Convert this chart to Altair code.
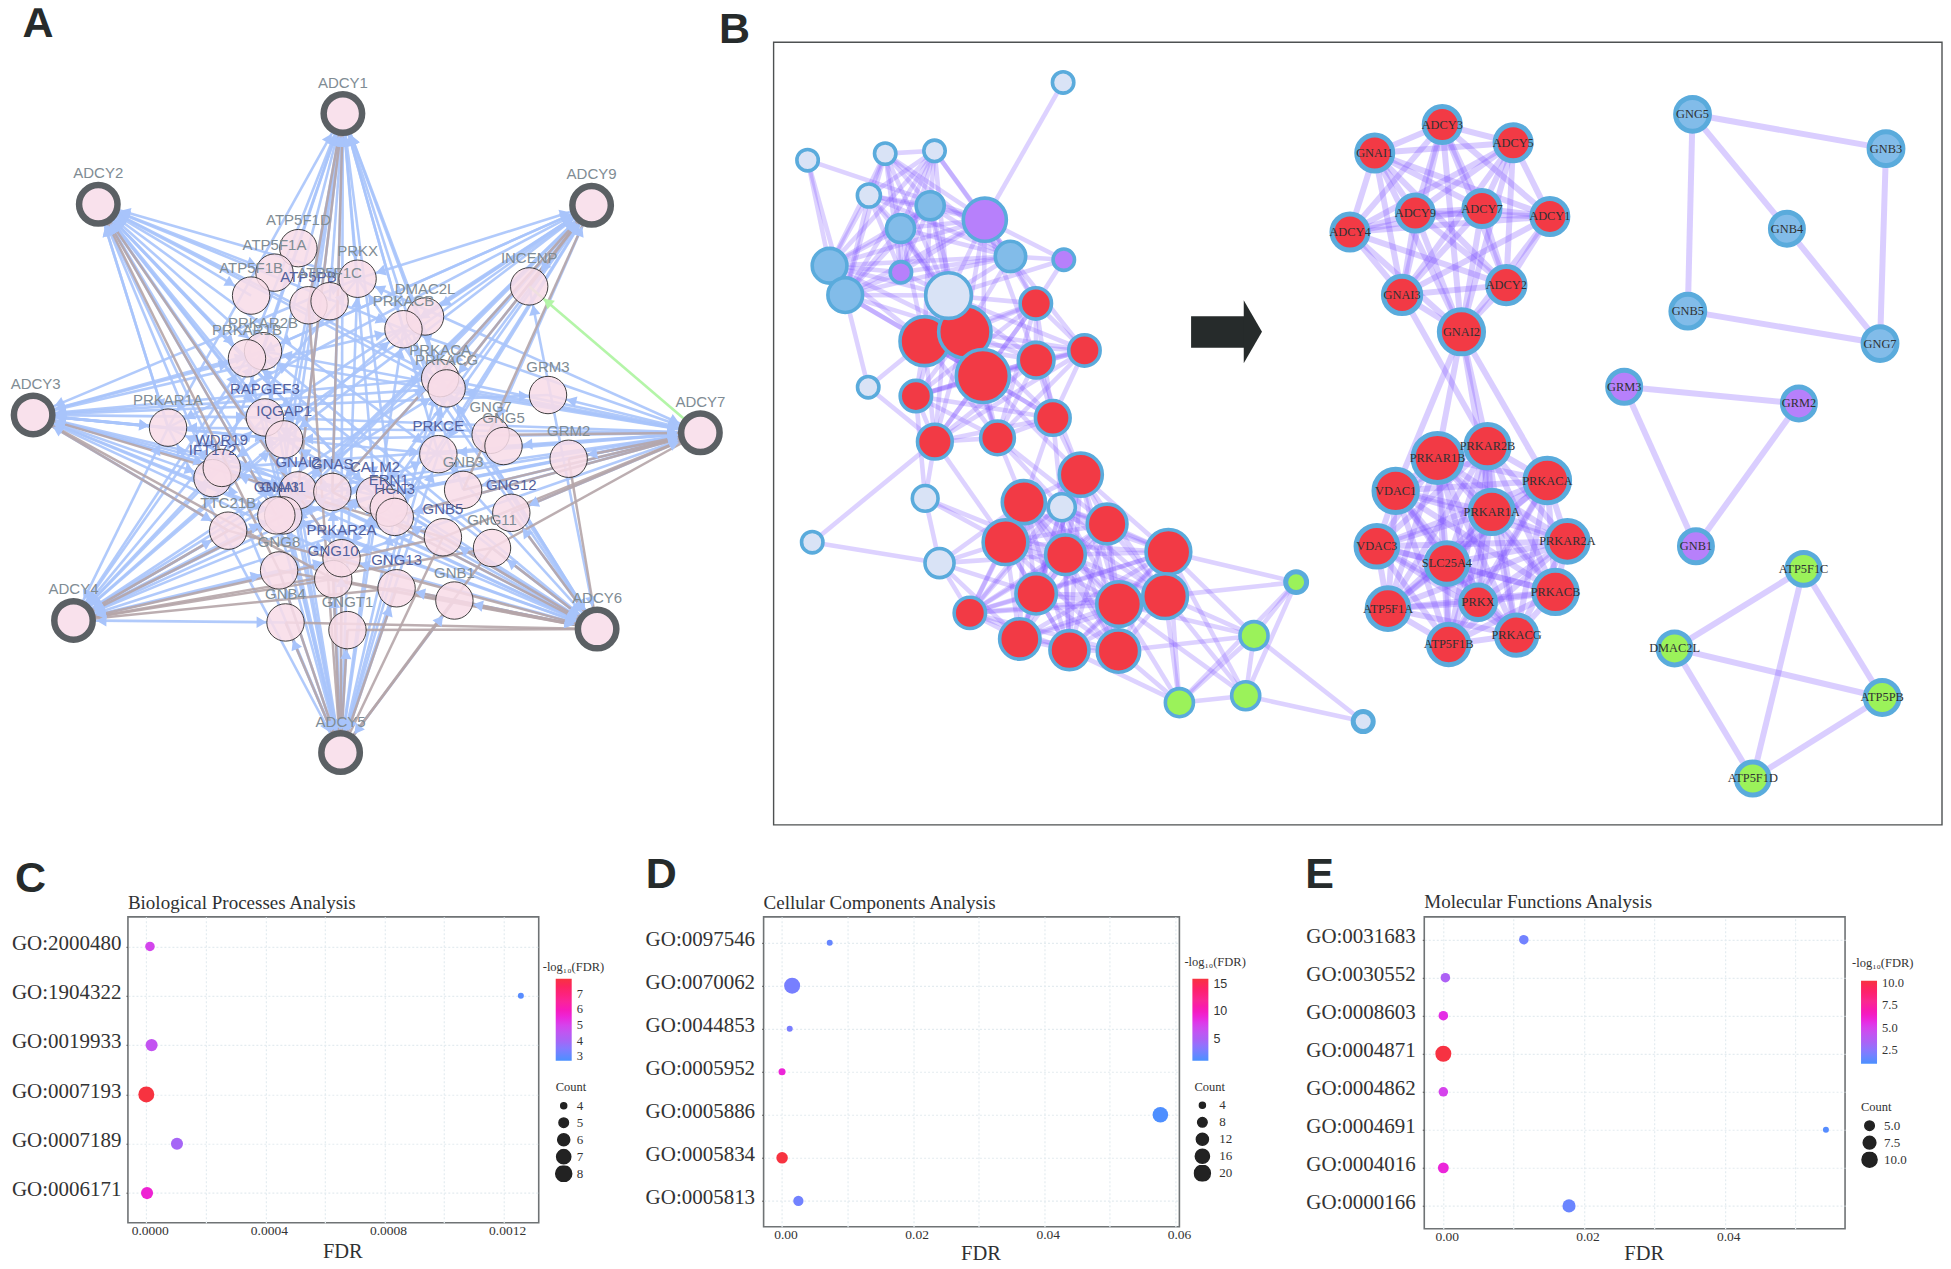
import math
from itertools import combinations
import altair as alt
import pandas as pd

SERIF = "Liberation Serif"
SANS = "Liberation Sans"

# ------------------------------------------------------------ Panel A network
# layout: name, x, y
A_SX, A_SY = 2.178, 1.96
A_hubs = [("ADCY1", 745, 222), ("ADCY2", 212, 400), ("ADCY9", 1287, 402), ("ADCY3", 70, 813),
          ("ADCY7", 1524, 848), ("ADCY4", 158, 1216), ("ADCY6", 1299, 1233), ("ADCY5", 740, 1475)]
A_nodes = [("ATP5F1D", 648, 486), ("ATP5F1A", 596, 534), ("ATP5F1B", 545, 579), ("ATP5PB", 670, 598),
           ("ATP5F1C", 716, 590), ("PRKX", 777, 546), ("DMAC2L", 924, 620), ("PRKACB", 877, 645),
           ("INCENP", 1151, 561), ("PRKAR2B", 571, 688), ("PRKAR1B", 536, 702), ("PRKACA", 957, 741),
           ("PRKACG", 971, 761), ("GRM3", 1192, 774), ("PRKAR1A", 364, 838), ("RAPGEF3", 575, 818),
           ("IQGAP1", 617, 861), ("PRKCE", 953, 890), ("GNG7", 1067, 852), ("GNG5", 1095, 874),
           ("GRM2", 1237, 899), ("IFT172", 461, 937), ("WDR19", 481, 917), ("GNAI2", 647, 961),
           ("GNAS", 722, 964), ("CALM2", 815, 971), ("ERN1", 845, 995), ("HCN3", 858, 1013),
           ("GNB3", 1007, 960), ("GNG12", 1112, 1005), ("GNAI1", 615, 1010), ("GNAI3", 600, 1010),
           ("TTC21B", 495, 1040), ("GNB5", 963, 1053), ("GNG11", 1070, 1074), ("GNG8", 606, 1118),
           ("GNG10", 724, 1135), ("PRKAR2A", 742, 1094), ("GNG13", 862, 1153), ("GNB1", 988, 1177),
           ("GNB4", 620, 1220), ("GNGT1", 755, 1235)]
A_dark = ["GNAI2", "GNAS", "CALM2", "ERN1", "HCN3", "GNAI1", "GNAI3", "IQGAP1", "RAPGEF3", "WDR19", "IFT172",
          "PRKAR2A", "GNG10", "GNB5", "PRKCE", "GNG12", "GNG13", "ATP5PB"]
A_blue_targets = ["PRKAR2B", "PRKAR1B", "PRKACA", "PRKACG", "PRKACB", "PRKAR1A", "PRKAR2A", "PRKX", "RAPGEF3",
                  "IQGAP1", "GNAI1", "GNAI2", "GNAI3", "GNAS", "CALM2", "HCN3", "PRKCE", "WDR19"]
A_blue_extra = {"ADCY7": ["GRM3", "GRM2", "GNG5", "GNG12", "GNB3"], "ADCY5": ["GNB4", "GNGT1", "GNG13", "GNB1", "GNG8", "GNG10"],
                "ADCY6": ["GNB1", "GNG13", "GNG11", "GNB5", "GNG12", "INCENP"], "ADCY4": ["TTC21B", "GNG8", "GNB4"],
                "ADCY9": ["INCENP", "GNG7", "DMAC2L"], "ADCY1": ["ATP5F1C", "GNB3"],
                "ADCY2": ["ATP5F1B", "ATP5F1A", "PRKAR1A", "IFT172"], "ADCY3": ["PRKAR1A", "IFT172", "TTC21B", "GRM3"]}
A_brown = {"ADCY1": ["GNAS", "ATP5PB", "GNAI2"], "ADCY2": ["GNAI3", "PRKAR2A", "GNG8"], "ADCY9": ["INCENP", "PRKACG", "GNB3", "GNAS"],
           "ADCY3": ["TTC21B", "GNG10", "GNB5"], "ADCY7": ["GNG7", "GNG12", "GNB5", "GNB3", "GNG11", "GRM2", "HCN3"],
           "ADCY4": ["GNG10", "GNB5", "GNG13", "GNAI1", "TTC21B", "GNG11"],
           "ADCY6": ["GNB1", "GNG13", "GNG11", "GNB5", "GNB4", "GNGT1", "GNG8", "GNG10", "GRM2", "GNAS", "TTC21B", "GNG12"],
           "ADCY5": ["GNB4", "GNGT1", "GNG13", "GNB1", "GNG8", "GNG10", "GNB5", "PRKAR2A", "ATP5PB", "GNG11"]}

# ------------------------------------------------------------ Panel B network
# left network, read in (x/3 + 760, y/2.148 + 30) units: name, x, y, outer width, kind
B_left = [("T0", 908, 112, 75, "l"), ("T1", 141, 279, 75, "l"), ("T2", 374, 265, 75, "l"), ("T3", 522, 259, 75, "l"),
          ("T4", 325, 355, 80, "l"), ("T5", 509, 377, 95, "b"), ("T6", 420, 426, 95, "b"), ("T7", 207, 506, 115, "b"),
          ("T8", 254, 569, 115, "b"), ("T9", 673, 407, 140, "p"), ("T10", 750, 486, 102, "b"), ("T11", 421, 520, 75, "p"),
          ("T13", 910, 493, 75, "p"), ("X1", 323, 767, 75, "l"), ("X2", 155, 1100, 75, "l"), ("X3", 494, 1006, 88, "l"),
          ("X4", 537, 1145, 98, "l"),
          ("M1", 826, 587, 105, "r"), ("M2", 972, 688, 105, "r"), ("M3", 827, 709, 118, "r"), ("M4", 492, 668, 158, "r"),
          ("M5", 613, 648, 168, "r"), ("M6", 667, 743, 170, "r"), ("M7", 466, 786, 105, "r"), ("M8", 523, 884, 115, "r"),
          ("M9", 711, 876, 112, "r"), ("M10", 877, 833, 115, "r"), ("T12", 564, 570, 148, "l"),
          ("B1", 961, 955, 140, "r"), ("B2", 790, 1014, 140, "r"), ("B3", 1040, 1061, 130, "r"), ("B4", 735, 1100, 145, "r"),
          ("B5", 915, 1127, 130, "r"), ("B6", 1224, 1121, 145, "r"), ("B7", 827, 1211, 132, "r"), ("B8", 1076, 1233, 145, "r"),
          ("B9", 1214, 1216, 145, "r"), ("B10", 628, 1252, 105, "r"), ("B11", 778, 1308, 132, "r"), ("B12", 927, 1332, 128, "r"),
          ("B13", 1074, 1334, 138, "r"), ("B14", 904, 1025, 92, "l"),
          ("G1", 1481, 1301, 95, "g"), ("G2", 1257, 1445, 95, "g"), ("G3", 1456, 1430, 95, "g")]
# right part, read in (x/2.34 + 1280, y/2.036 + 60) units
B_right = [("G4", 37, 1063, 60, "g", ""), ("L9", 194, 1347, 58, "l", ""),
           ("GNAI1", 221, 189, 95, "r", "GNAI1"), ("ADCY3", 379, 131, 95, "r", "ADCY3"), ("ADCY5", 545, 168, 95, "r", "ADCY5"),
           ("ADCY1", 631, 318, 95, "r", "ADCY1"), ("ADCY7", 472, 302, 95, "r", "ADCY7"), ("ADCY9", 316, 311, 95, "r", "ADCY9"),
           ("ADCY4", 163, 350, 95, "r", "ADCY4"), ("GNAI3", 285, 478, 98, "r", "GNAI3"), ("ADCY2", 529, 458, 98, "r", "ADCY2"),
           ("GNAI2", 424, 553, 114, "r", "GNAI2"),
           ("VDAC1", 270, 877, 112, "r", "VDAC1"), ("PRKAR1B", 368, 810, 125, "r", "PRKAR1B"), ("PRKAR2B", 485, 786, 112, "r", "PRKAR2B"),
           ("PRKACA", 625, 856, 115, "r", "PRKACA"), ("PRKAR1A", 495, 920, 112, "r", "PRKAR1A"), ("VDAC3", 226, 990, 108, "r", "VDAC3"),
           ("PRKAR2A", 672, 980, 108, "r", "PRKAR2A"), ("SLC25A4", 390, 1025, 108, "r", "SLC25A4"), ("PRKACB", 644, 1083, 112, "r", "PRKACB"),
           ("PRKX", 463, 1104, 92, "r", "PRKX"), ("ATP5F1A", 252, 1117, 108, "r", "ATP5F1A"), ("ATP5F1B", 394, 1190, 105, "r", "ATP5F1B"),
           ("PRKACG", 553, 1171, 105, "r", "PRKACG"),
           ("GNG5", 965, 110, 90, "b", "GNG5"), ("GNB3", 1418, 180, 90, "b", "GNB3"), ("GNB4", 1186, 343, 88, "b", "GNB4"),
           ("GNB5", 954, 511, 90, "b", "GNB5"), ("GNG7", 1404, 577, 90, "b", "GNG7"),
           ("GRM3", 805, 665, 88, "p", "GRM3"), ("GRM2", 1214, 699, 88, "p", "GRM2"), ("GNB1", 973, 990, 88, "p", "GNB1"),
           ("ATP5F1C", 1225, 1036, 88, "g", "ATP5F1C"), ("DMAC2L", 923, 1198, 88, "g", "DMAC2L"),
           ("ATP5PB", 1409, 1298, 90, "g", "ATP5PB"), ("ATP5F1D", 1106, 1463, 88, "g", "ATP5F1D")]
B_fill = {"l": "#d9e3f6", "b": "#82bce9", "p": "#b780fb", "r": "#f23a45", "g": "#9bf25a"}

B_top_group = ["T2", "T3", "T4", "T5", "T6", "T7", "T8", "T9", "T10", "T11", "T12"]
B_mid_group = ["M1", "M2", "M3", "M4", "M5", "M6", "M7", "M8", "M9", "M10"]
B_bot_group = ["B1", "B2", "B3", "B4", "B5", "B6", "B7", "B8", "B9", "B10", "B11", "B12", "B13", "B14"]
B_green_group = ["G1", "G2", "G3", "G4"]
B_extra = [("T0", "T9"), ("T1", "T9"), ("T1", "T7"), ("T1", "T8"), ("T13", "T9"), ("T13", "T10"), ("T13", "M1"), ("T13", "T12"),
           ("T12", "M1"), ("T12", "M2"), ("T12", "M3"), ("T12", "M4"), ("T12", "M5"), ("T12", "M6"), ("T12", "M7"), ("T12", "M8"),
           ("T12", "M9"), ("T9", "M1"), ("T9", "M3"), ("T9", "M5"), ("T9", "M6"), ("T10", "M1"), ("T10", "M2"), ("T10", "M5"),
           ("T5", "M4"), ("T5", "M5"), ("T6", "M4"), ("T6", "M5"), ("T7", "M4"), ("T7", "M5"), ("T8", "M4"), ("T8", "M5"), ("T8", "M6"),
           ("T8", "X1"), ("X1", "M4"), ("X1", "M8"), ("M8", "X2"), ("X2", "X4"), ("M8", "X3"), ("M7", "X3"), ("X3", "X4"), ("X3", "B4"),
           ("M8", "B4"), ("X4", "B4"), ("X4", "B7"), ("X4", "B2"), ("X4", "B5"), ("X4", "B10"), ("X4", "B11"), ("X3", "B5"),
           ("M9", "B2"), ("M10", "B1"), ("M10", "B2"), ("M9", "B3"), ("M6", "B1"), ("M9", "B14"), ("M10", "B14"), ("M3", "B1"),
           ("B6", "G4"), ("B9", "G4"), ("B6", "G1"), ("B9", "G1"), ("B8", "G1"), ("B13", "G1"), ("B6", "G2"), ("B9", "G2"),
           ("B8", "G2"), ("B13", "G2"), ("B12", "G2"), ("B6", "G3"), ("B9", "G3"), ("B8", "G3"), ("G3", "L9"), ("G1", "L9")]
B_adcy_group = ["GNAI1", "ADCY3", "ADCY5", "ADCY1", "ADCY7", "ADCY9", "ADCY4", "GNAI3", "ADCY2", "GNAI2"]
B_pka_group = ["VDAC1", "PRKAR1B", "PRKAR2B", "PRKACA", "PRKAR1A", "VDAC3", "PRKAR2A", "SLC25A4", "PRKACB", "PRKX", "ATP5F1A", "ATP5F1B", "PRKACG"]
B_link = [("GNAI2", "VDAC1"), ("GNAI2", "PRKAR1B"), ("GNAI2", "PRKAR2B"), ("GNAI2", "PRKACA"), ("GNAI2", "PRKAR1A"), ("GNAI3", "PRKAR2B")]
B_sparse = [("GNG5", "GNB3"), ("GNG5", "GNB4"), ("GNG5", "GNB5"), ("GNB3", "GNG7"), ("GNB4", "GNG7"), ("GNB5", "GNG7"),
            ("GRM3", "GRM2"), ("GRM3", "GNB1"), ("GRM2", "GNB1"), ("ATP5F1C", "DMAC2L"), ("ATP5F1C", "ATP5PB"), ("ATP5F1C", "ATP5F1D"),
            ("DMAC2L", "ATP5PB"), ("DMAC2L", "ATP5F1D"), ("ATP5PB", "ATP5F1D")]

# frame of panel B, big arrow, panel letters
frame = dict(x=773, x2=1942, y=42, y2=825)
arrow_shaft = dict(x=1190.7, x2=1244, y=316, y2=347.5)
arrow_head = dict(x=1252.5, y=331.5)
letters_top = [("A", 37, 24), ("B", 734, 30)]

# ------------------------------------------------------------ dot plots
C_ids = ["GO:2000480", "GO:1904322", "GO:0019933", "GO:0007193", "GO:0007189", "GO:0006171"]
C_fdr = [0.0000123, 0.001258, 0.0000178, 0.00000001, 0.000103, 0.0000025]
C_log = [4.95, 2.90, 4.6, 7.96, 4.0, 5.6]
C_count = [5, 4, 6, 8, 6, 6]
D_ids = ["GO:0097546", "GO:0070062", "GO:0044853", "GO:0005952", "GO:0005886", "GO:0005834", "GO:0005813"]
D_fdr = [0.00728, 0.00155, 0.00118, 0.00001, 0.0577, 0.00002, 0.0025]
D_log = [2.14, 2.8, 2.93, 9.0, 1.24, 15.9, 2.6]
D_count = [4, 20, 4, 5, 19, 11, 9]
E_ids = ["GO:0031683", "GO:0030552", "GO:0008603", "GO:0004871", "GO:0004862", "GO:0004691", "GO:0004016", "GO:0000166"]
E_fdr = [0.01145, 0.0003, 0.00001, 0.00001, 0.00001, 0.05438, 0.00001, 0.01787]
E_log = [1.94, 3.5, 5.6, 10.2, 5.0, 1.26, 5.9, 1.75]
E_count = [5, 5, 5, 11, 5, 3, 6, 8]
RAMP = ["#4a90ff", "#a864f5", "#e52de5", "#f92a90", "#f73340"]


def stops(lo, hi):
    return [lo + (hi - lo) * i / 4 for i in range(5)]


# ------------------------------------------------------------ build top chart
W, H = 1935, 860
OX, OY = 8, 8
xs = alt.X("x:Q", scale=alt.Scale(domain=[OX, OX + W], nice=False, zero=False), axis=None)
ys = alt.Y("y:Q", scale=alt.Scale(domain=[OY, OY + H], nice=False, zero=False, reverse=True), axis=None)

A_pos = {n: (x / A_SX, y / A_SY) for n, x, y in A_hubs + A_nodes}
hub_names = [h[0] for h in A_hubs]


def seg(a, b):
    (x, y), (x2, y2) = A_pos[a], A_pos[b]
    return dict(x=x, y=y, x2=x2, y2=y2)


def heads(a, b, gap):
    (x, y), (x2, y2) = A_pos[a], A_pos[b]
    d = math.hypot(x2 - x, y2 - y)
    ux, uy = (x2 - x) / d, (y2 - y) / d
    return dict(x=x2 - ux * gap, y=y2 - uy * gap, angle=(math.degrees(math.atan2(ux, -uy))) % 360)


blue_edges, brown_edges, blue_heads = [], [], []
for h in hub_names:
    for t in A_blue_targets + A_blue_extra.get(h, []):
        blue_edges.append(seg(h, t))
        blue_heads.append(heads(h, t, 24))
        blue_heads.append(heads(t, h, 28))
    for t in A_brown[h]:
        brown_edges.append(seg(h, t))

green_edge = [seg("ADCY7", "INCENP")]
green_head = [heads("ADCY7", "INCENP", 24)]

layers = []
layers.append(alt.Chart(pd.DataFrame(blue_edges)).mark_rule(color="#a8c4fb", strokeWidth=2.6, opacity=0.9, clip=True).encode(x=xs, y=ys, x2="x2:Q", y2="y2:Q"))
layers.append(alt.Chart(pd.DataFrame(brown_edges)).mark_rule(color="#b5a5a8", strokeWidth=2.5, opacity=0.9, clip=True).encode(x=xs, y=ys, x2="x2:Q", y2="y2:Q"))
layers.append(alt.Chart(pd.DataFrame(blue_heads)).mark_point(shape="triangle-up", filled=True, color="#a8c4fb", size=130, opacity=1, clip=True).encode(x=xs, y=ys, angle=alt.Angle("angle:Q", scale=None)))
layers.append(alt.Chart(pd.DataFrame(green_edge)).mark_rule(color="#b4f5a8", strokeWidth=2.6, clip=True).encode(x=xs, y=ys, x2="x2:Q", y2="y2:Q"))
layers.append(alt.Chart(pd.DataFrame(green_head)).mark_point(shape="triangle-up", filled=True, color="#b4f5a8", size=130, opacity=1, clip=True).encode(x=xs, y=ys, angle=alt.Angle("angle:Q", scale=None)))

A_node_df = pd.DataFrame([dict(x=x / A_SX, y=y / A_SY, name=n) for n, x, y in A_nodes])
A_hub_df = pd.DataFrame([dict(x=x / A_SX, y=y / A_SY, name=n) for n, x, y in A_hubs])
layers.append(alt.Chart(A_node_df).mark_circle(size=1400, fill="#f8dce8", fillOpacity=0.86, stroke="#2b2b2b", strokeWidth=0.9, opacity=1, clip=True).encode(x=xs, y=ys))
layers.append(alt.Chart(A_hub_df).mark_circle(size=1480, fill="#f9e1ec", stroke="#5b6064", strokeWidth=6.5, opacity=1, clip=True).encode(x=xs, y=ys))

A_lab = A_node_df.assign(c=[("#52609c" if n in A_dark else "#7f8c94") for n in A_node_df.name])
layers.append(alt.Chart(A_lab).mark_text(font=SANS, fontSize=15, dy=-28, clip=True).encode(x=xs, y=ys, text="name:N", color=alt.Color("c:N", scale=None)))
A_hub_lab = A_hub_df.assign(x=[v + (2.5 if n == "ADCY3" else 0) for v, n in zip(A_hub_df.x, A_hub_df.name)])
layers.append(alt.Chart(A_hub_lab).mark_text(font=SANS, fontSize=15, dy=-31, color="#7f8c94", clip=True).encode(x=xs, y=ys, text="name:N"))

# panel B
B_pos, rows = {}, []
for n, x, y, w, k in B_left:
    B_pos[n] = (760 + x / 3, 30 + y / 2.148)
    rows.append(dict(x=B_pos[n][0], y=B_pos[n][1], d=w / 3, fill=B_fill[k], label="", sw=3.6))
for n, x, y, w, k, lab in B_right:
    B_pos[n + "_r"] = (1280 + x / 2.34, 60 + y / 2.036)
    rows.append(dict(x=B_pos[n + "_r"][0], y=B_pos[n + "_r"][1], d=w / 2.316, fill=B_fill[k], label=lab, sw=5))
B_nodes = pd.DataFrame(rows)
B_nodes["size"] = [(d - s) ** 2 for d, s in zip(B_nodes.d, B_nodes.sw)]


def bseg(a, b):
    (x, y), (x2, y2) = B_pos[a], B_pos[b]
    return dict(x=x, y=y, x2=x2, y2=y2)


left_pairs = list(combinations(B_top_group, 2)) + list(combinations(B_mid_group, 2)) + list(combinations(B_bot_group, 2)) + list(combinations(B_green_group, 2)) + B_extra
for k in ("G4", "L9"):
    B_pos[k] = B_pos[k + "_r"]
right_pairs = [(a + "_r", b + "_r") for a, b in list(combinations(B_adcy_group, 2)) + list(combinations(B_pka_group, 2)) + B_link + B_sparse]

EDGE = "#7a50ff"
layers.append(alt.Chart(pd.DataFrame([bseg(a, b) for a, b in left_pairs])).mark_rule(color=EDGE, strokeWidth=4.6, opacity=0.26, clip=True).encode(x=xs, y=ys, x2="x2:Q", y2="y2:Q"))
layers.append(alt.Chart(pd.DataFrame([bseg(a, b) for a, b in right_pairs])).mark_rule(color=EDGE, strokeWidth=6, opacity=0.28, clip=True).encode(x=xs, y=ys, x2="x2:Q", y2="y2:Q"))
layers.append(alt.Chart(B_nodes).mark_circle(stroke="#5aabdc", opacity=1, clip=True).encode(
    x=xs, y=ys, size=alt.Size("size:Q", scale=None), color=alt.Color("fill:N", scale=None), strokeWidth=alt.StrokeWidth("sw:Q", scale=None)))
layers.append(alt.Chart(B_nodes[B_nodes.label != ""]).mark_text(font=SERIF, fontSize=12.4, color="#2f3133", clip=True).encode(x=xs, y=ys, text="label:N"))

layers.append(alt.Chart(pd.DataFrame([frame])).mark_rect(fill=None, stroke="#4e5152", strokeWidth=1.4, clip=True).encode(x=xs, y=ys, x2="x2:Q", y2="y2:Q"))
layers.append(alt.Chart(pd.DataFrame([arrow_shaft])).mark_rect(color="#262b2b", opacity=1, clip=True).encode(x=xs, y=ys, x2="x2:Q", y2="y2:Q"))
layers.append(alt.Chart(pd.DataFrame([arrow_head])).mark_point(shape="M-0.29,-1L0.29,0L-0.29,1Z", filled=True, color="#262b2b", opacity=1, size=3969, clip=True).encode(x=xs, y=ys))
layers.append(alt.Chart(pd.DataFrame(letters_top, columns=["t", "x", "y"])).mark_text(font=SANS, fontWeight="bold", fontSize=43, color="#262b2b", clip=True).encode(x=xs, y=ys, text="t:N"))

top = alt.layer(*layers).properties(width=W, height=H)


# ------------------------------------------------------------ dot panels
def dot_panel(left, top_px, wpx, hpx, title, title_y, fdr_y, ypad, ids, fdr, logs, counts, xdom, grid, fmt, lab_step,
              cdom, cvals, cfmt, cfont, grad, title_xy, count_xy, sizedom, sizevals, sizefmt, sizepos, size_off, letter):
    df = pd.DataFrame(dict(go=ids, fdr=fdr, log=logs, count=counts))
    x_enc = alt.X("fdr:Q", scale=alt.Scale(domain=xdom, nice=False, zero=False),
                  axis=alt.Axis(values=grid, title="FDR", titleFont=SERIF, titleFontSize=20.5, titleFontWeight="normal", titleColor="#2f3133",
                                titleBaseline="middle", titleY=fdr_y - (top_px + hpx), titleX=wpx / 2 + 9,
                                labelFont=SERIF, labelFontSize=13.5, labelColor="#333", labelPadding=1, labelOffset=3.5,
                                labelExpr=f"(round(datum.value/{lab_step})*{lab_step}==round(datum.value/{lab_step*2})*{lab_step*2}) ? format(datum.value,'{fmt}') : ''",
                                labelOverlap=False, labelFlush=False, ticks=False, domain=False,
                                grid=True, gridColor="#e4ecf0", gridDash=[2, 2], gridWidth=1.2))
    y_enc = alt.Y("go:N", sort=ids, scale=alt.Scale(type="point", padding=0.6),
                  axis=alt.Axis(title=None, labelFont=SERIF, labelFontSize=21, labelColor="#333", labelPadding=ypad, labelOffset=-3.3, tickSize=2, tickColor="#555",
                                domain=False, grid=True, gridColor="#e4ecf0", gridDash=[2, 2], gridWidth=1.2))
    c_leg = alt.Legend(title=None, orient="none", legendX=grad[0] - left, legendY=grad[1] - top_px, type="gradient",
                       gradientLength=grad[2], gradientThickness=16, gradientStrokeWidth=0, values=cvals, format=cfmt,
                       labelFont=cfont, labelFontSize=12.5, labelColor="#333", labelOffset=5)
    s_leg = alt.Legend(title=None, orient="none", legendX=sizepos[0] - left - 8, legendY=sizepos[1] - top_px - 8, values=sizevals, format=sizefmt,
                       symbolFillColor="#222", symbolStrokeColor="#222", symbolOpacity=1, symbolType="circle",
                       labelFont=SERIF, labelFontSize=13, labelColor="#333", clipHeight=16.5, rowPadding=0, labelOffset=size_off)
    pts = alt.Chart(df).mark_circle(opacity=1).encode(
        x=x_enc, y=y_enc,
        color=alt.Color("log:Q", scale=alt.Scale(domain=stops(*cdom), range=RAMP, clamp=True), legend=c_leg),
        size=alt.Size("count:Q", scale=alt.Scale(domain=sizedom, range=[36, 256], zero=False), legend=s_leg))
    texts = [("-log\u2081\u2080(FDR)", title_xy[0], title_xy[1], 12.5, SERIF, "normal", "#333"),
             ("Count", count_xy[0], count_xy[1], 12.5, SERIF, "normal", "#333"),
             (title, left, title_y, 19, SERIF, "normal", "#2f3133"),
             (letter[0], letter[1], letter[2], 43, SANS, "bold", "#262b2b")]
    extra = []
    for t, tx, ty, fs, fnt, fw, col in texts:
        extra.append(alt.Chart(pd.DataFrame(dict(t=[t]))).mark_text(font=fnt, fontSize=fs, fontWeight=fw, color=col, align="left", baseline="middle").encode(
            x=alt.value(tx - left), y=alt.value(ty - top_px), text="t:N"))
    return alt.layer(pts, *extra).properties(
        width=wpx, height=hpx, view=alt.ViewConfig(stroke="#6f7375", strokeWidth=1.6)
    ).resolve_scale(color="independent", size="independent")


C = dot_panel(127, 917, 411, 306, "Biological Processes Analysis", 903, 1252, 5, C_ids, C_fdr, C_log, C_count,
              [-0.0000617, 0.001318], [0, 0.0002, 0.0004, 0.0006, 0.0008, 0.001, 0.0012], ".4f", 0.0002,
              (2.72, 7.96), [3, 4, 5, 6, 7], "d", SERIF, (555, 979, 82), (542, 967), (555, 1087), [4, 8], [4, 5, 6, 7, 8], "d",
              (562, 1105.7), 4, ("C", 14, 879))
D = dot_panel(763, 917, 416, 310, "Cellular Components Analysis", 903, 1254, 7, D_ids, D_fdr, D_log, D_count,
              [-0.0028, 0.0606], [0, 0.01, 0.02, 0.03, 0.04, 0.05, 0.06], ".2f", 0.01,
              (1.1, 15.9), [5, 10, 15], "d", SANS, (1192, 979, 82), (1184, 962), (1194, 1087), [4, 20], [4, 8, 12, 16, 20], "d",
              (1201, 1105.3), 8, ("D", 645, 875))
E = dot_panel(1424, 917, 421, 312, "Molecular Functions Analysis", 902, 1254, 7, E_ids, E_fdr, E_log, E_count,
              [-0.0027, 0.0571], [0, 0.01, 0.02, 0.03, 0.04, 0.05], ".2f", 0.01,
              (1.0, 10.25), [2.5, 5, 7.5, 10], ".1f", SERIF, (1861, 981, 83), (1852, 963), (1861, 1107), [3, 11], [5, 7.5, 10], ".1f",
              (1869, 1125.7), 6, ("E", 1305, 875))

spacer = alt.Chart(pd.DataFrame(dict(a=[0]))).mark_point(opacity=0, size=1).encode(x=alt.value(0), y=alt.value(0)).properties(width=1, height=1)

right_pair = alt.hconcat(D, E, spacing=245, bounds="flush")
row = alt.hconcat(C, right_pair, spacing=225, bounds="flush")
bottom = alt.hconcat(spacer, row, spacing=118, bounds="flush")

chart = alt.vconcat(top, bottom, spacing=49, bounds="flush").properties(padding=0, background="white").configure_view(stroke=None)
chart.save("out.html", embed_options={"renderer": "svg", "actions": False})
